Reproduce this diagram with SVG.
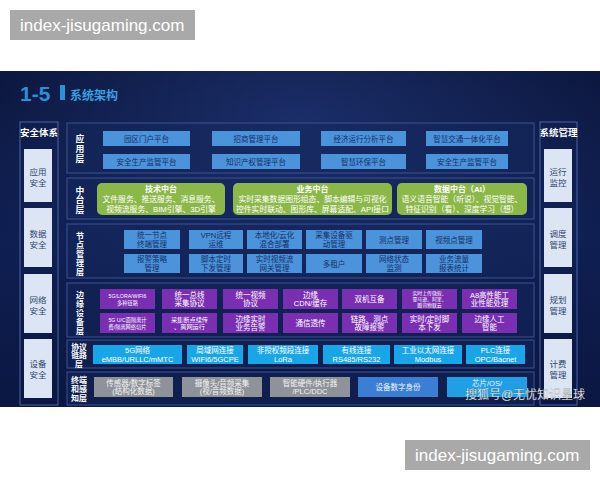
<svg xmlns="http://www.w3.org/2000/svg" width="600" height="480" viewBox="0 0 600 480">
<defs>
<linearGradient id="bg" x1="0" y1="0" x2="0" y2="1">
<stop offset="0" stop-color="#0a1438"/>
<stop offset="0.5" stop-color="#0f1f52"/>
<stop offset="1" stop-color="#0b1742"/>
</linearGradient>
<radialGradient id="glow" cx="0.5" cy="0.15" r="0.6">
<stop offset="0" stop-color="#27408a" stop-opacity="0.55"/>
<stop offset="1" stop-color="#27408a" stop-opacity="0"/>
</radialGradient>
<style>
text{font-family:"Liberation Sans","Noto Sans CJK SC",sans-serif;text-anchor:middle}
.wm{fill:#a9a9a9}
.wmt{fill:#ffffff;font-size:17px;text-anchor:start}
.layer{fill:#16285e;fill-opacity:0.45;stroke:#3d5394;stroke-width:1}
.col{fill:none;stroke:#4a62a2;stroke-width:1}
.side{fill:#dbe5f4}
.sidet{fill:#34466d;font-size:8.5px}
.hdr{fill:#ffffff;font-size:9.5px;font-weight:bold}
.lbl{fill:#ffffff;font-size:8.8px;font-weight:bold}
.lbs{fill:#ffffff;font-size:8px;font-weight:bold}
.app{fill:#4b93da}
.appt{fill:#16306a;font-size:7.5px}
.green{fill:#8cb84a}
.gt{fill:#ffffff;font-size:7.8px}
.gh{font-weight:bold;font-size:8px}
.pur{fill:#7a2fb2}
.pt{fill:#ffffff;font-size:7.5px}
.ps{fill:#ffffff;font-size:5.2px}
.cy{fill:#18a6e8}
.ct{fill:#ffffff;font-size:7.5px}
.gr{fill:#8e9399}
.grt{fill:#f4f4f4;font-size:7.5px}
</style>
</defs>

<!-- watermarks -->
<rect class="wm" x="10" y="10" width="185" height="30"/>
<text class="wmt" x="20" y="31">index-jisugaming.com</text>

<!-- background -->
<rect x="0" y="71" width="600" height="336" fill="url(#bg)"/>
<rect x="0" y="71" width="600" height="336" fill="url(#glow)"/>

<!-- title -->
<g id="title">
<text x="20" y="101" style="font-size:21px;font-weight:bold;fill:#2a91d9;text-anchor:start">1-5</text>
<rect x="60" y="85" width="5" height="15" fill="#2a91d9"/>
<text x="70" y="100" style="font-size:12px;font-weight:bold;fill:#3a9fe2;text-anchor:start">系统架构</text>
</g>

<!-- left column -->
<g id="security">
<rect class="col" x="20" y="122" width="38" height="283"/>
<text class="hdr" x="39" y="135.5">安全体系</text>
<g id="sec-app"><rect class="side" x="24" y="149" width="28" height="53"/><text class="sidet"><tspan x="38" y="175">应用</tspan><tspan x="38" y="186">安全</tspan></text></g>
<g id="sec-data"><rect class="side" x="24" y="208" width="28" height="59"/><text class="sidet"><tspan x="38" y="237">数据</tspan><tspan x="38" y="248">安全</tspan></text></g>
<g id="sec-net"><rect class="side" x="24" y="274" width="28" height="59"/><text class="sidet"><tspan x="38" y="303">网络</tspan><tspan x="38" y="314">安全</tspan></text></g>
<g id="sec-dev"><rect class="side" x="24" y="339" width="28" height="59"/><text class="sidet"><tspan x="38" y="367">设备</tspan><tspan x="38" y="378">安全</tspan></text></g>
</g>

<!-- right column -->
<g id="mgmt">
<rect class="col" x="540" y="122" width="37" height="283"/>
<text class="hdr" x="558.5" y="135.5">系统管理</text>
<g id="m-run"><rect class="side" x="544" y="149" width="28" height="53"/><text class="sidet"><tspan x="558" y="175">运行</tspan><tspan x="558" y="186">监控</tspan></text></g>
<g id="m-sched"><rect class="side" x="544" y="208" width="28" height="59"/><text class="sidet"><tspan x="558" y="237">调度</tspan><tspan x="558" y="248">管理</tspan></text></g>
<g id="m-plan"><rect class="side" x="544" y="274" width="28" height="59"/><text class="sidet"><tspan x="558" y="303">规划</tspan><tspan x="558" y="314">管理</tspan></text></g>
<g id="m-bill"><rect class="side" x="544" y="339" width="28" height="59"/><text class="sidet"><tspan x="558" y="367">计费</tspan><tspan x="558" y="378">管理</tspan></text></g>
</g>

<!-- application layer -->
<g id="layer-app">
<rect class="layer" x="67" y="123" width="467" height="50"/>
<text class="lbl"><tspan x="80" y="141.5">应</tspan><tspan x="80" y="151.5">用</tspan><tspan x="80" y="161.5">层</tspan></text>
<rect class="app" x="103" y="131" width="87" height="15"/><text class="appt" x="146.5" y="141.5">园区门户平台</text>
<rect class="app" x="212" y="131" width="88" height="15"/><text class="appt" x="256" y="141.5">招商管理平台</text>
<rect class="app" x="321" y="131" width="85" height="15"/><text class="appt" x="363.5" y="141.5">经济运行分析平台</text>
<rect class="app" x="426" y="131" width="82" height="15"/><text class="appt" x="467" y="141.5">智慧交通一体化平台</text>
<rect class="app" x="103" y="154" width="87" height="15"/><text class="appt" x="146.5" y="164.5">安全生产监管平台</text>
<rect class="app" x="212" y="154" width="88" height="15"/><text class="appt" x="256" y="164.5">知识产权管理平台</text>
<rect class="app" x="321" y="154" width="85" height="15"/><text class="appt" x="363.5" y="164.5">智慧环保平台</text>
<rect class="app" x="426" y="154" width="82" height="15"/><text class="appt" x="467" y="164.5">安全生产监管平台</text>
</g>

<!-- middle platform layer -->
<g id="layer-mid">
<rect class="layer" x="67" y="178" width="467" height="41"/>
<text class="lbl"><tspan x="80" y="193.5">中</tspan><tspan x="80" y="203.3">台</tspan><tspan x="80" y="213.1">层</tspan></text>
<g id="tech"><rect class="green" x="97" y="183" width="128" height="32" rx="5"/>
<text class="gt"><tspan class="gh" x="161" y="192">技术中台</tspan><tspan x="161" y="202">文件服务、推送服务、消息服务、</tspan><tspan x="161" y="211.5">视频流服务、BIM引擎、3D引擎</tspan></text></g>
<g id="biz"><rect class="green" x="233" y="183" width="159" height="32" rx="5"/>
<text class="gt"><tspan class="gh" x="312.5" y="192">业务中台</tspan><tspan x="312.5" y="202">实时采集数据图形组态、脚本编辑与可视化</tspan><tspan x="312.5" y="211.5">控件实时联动、图形库、屏幕适配、API接口</tspan></text></g>
<g id="data"><rect class="green" x="397" y="183" width="130" height="32" rx="5"/>
<text class="gt"><tspan class="gh" x="462" y="192">数据中台（AI）</tspan><tspan x="462" y="202">语义语音智能（听说）、视觉智能、</tspan><tspan x="462" y="211.5">特征识别（看）、深度学习（想）</tspan></text></g>
</g>

<!-- node management layer -->
<g id="layer-node">
<rect class="layer" x="67" y="224" width="467" height="54"/>
<text class="lbs"><tspan x="80" y="238.5">节</tspan><tspan x="80" y="247.5">点</tspan><tspan x="80" y="256.5">管</tspan><tspan x="80" y="265.5">理</tspan><tspan x="80" y="274.5">层</tspan></text>
<rect class="app" x="124" y="230" width="56" height="19"/><text class="appt"><tspan x="152" y="238">统一节点</tspan><tspan x="152" y="246.5">终端管理</tspan></text>
<rect class="app" x="189" y="230" width="54" height="19"/><text class="appt"><tspan x="216" y="238">VPN远程</tspan><tspan x="216" y="246.5">运维</tspan></text>
<rect class="app" x="247" y="230" width="55" height="19"/><text class="appt"><tspan x="274.5" y="238">本地化/云化</tspan><tspan x="274.5" y="246.5">混合部署</tspan></text>
<rect class="app" x="306" y="230" width="56" height="19"/><text class="appt"><tspan x="334" y="238">采集设备驱</tspan><tspan x="334" y="246.5">动管理</tspan></text>
<rect class="app" x="366" y="230" width="56" height="19"/><text class="appt" x="394" y="242.5">测点管理</text>
<rect class="app" x="426" y="230" width="56" height="19"/><text class="appt" x="454" y="242.5">视频点管理</text>
<rect class="app" x="124" y="254" width="56" height="19"/><text class="appt"><tspan x="152" y="262">报警策略</tspan><tspan x="152" y="270.5">管理</tspan></text>
<rect class="app" x="189" y="254" width="54" height="19"/><text class="appt"><tspan x="216" y="262">脚本定时</tspan><tspan x="216" y="270.5">下发管理</tspan></text>
<rect class="app" x="247" y="254" width="55" height="19"/><text class="appt"><tspan x="274.5" y="262">实时视频流</tspan><tspan x="274.5" y="270.5">网关管理</tspan></text>
<rect class="app" x="306" y="254" width="56" height="19"/><text class="appt" x="334" y="266.5">多租户</text>
<rect class="app" x="366" y="254" width="56" height="19"/><text class="appt"><tspan x="394" y="262">网络状态</tspan><tspan x="394" y="270.5">监测</tspan></text>
<rect class="app" x="426" y="254" width="56" height="19"/><text class="appt"><tspan x="454" y="262">业务流量</tspan><tspan x="454" y="270.5">报表统计</tspan></text>
</g>

<!-- edge device layer -->
<g id="layer-edge">
<rect class="layer" x="67" y="283" width="467" height="54"/>
<text class="lbs"><tspan x="80" y="297.5">边</tspan><tspan x="80" y="306.5">缘</tspan><tspan x="80" y="315.5">设</tspan><tspan x="80" y="324.5">备</tspan><tspan x="80" y="333.5">层</tspan></text>
<rect class="pur" x="100" y="289" width="55" height="20"/><text class="ps"><tspan x="127.5" y="298">5G/LORA/WIFI6</tspan><tspan x="127.5" y="305">多种链路</tspan></text>
<rect class="pur" x="162" y="289" width="55" height="20"/><text class="pt"><tspan x="189.5" y="297.5">统一总线</tspan><tspan x="189.5" y="306">采集协议</tspan></text>
<rect class="pur" x="223" y="289" width="55" height="20"/><text class="pt"><tspan x="250.5" y="297.5">统一视频</tspan><tspan x="250.5" y="306">协议</tspan></text>
<rect class="pur" x="283" y="289" width="55" height="20"/><text class="pt"><tspan x="310.5" y="297.5">边缘</tspan><tspan x="310.5" y="306">CDN/缓存</tspan></text>
<rect class="pur" x="342" y="289" width="55" height="20"/><text class="pt" x="369.5" y="301.5">双机互备</text>
<rect class="pur" x="402" y="289" width="55" height="20"/><text class="ps" style="font-size:4.9px"><tspan x="429.5" y="295.3">实时上传微软、</tspan><tspan x="429.5" y="300.9">亚马逊、阿里、</tspan><tspan x="429.5" y="306.5">腾讯物联云</tspan></text>
<rect class="pur" x="462" y="289" width="55" height="20"/><text class="pt"><tspan x="489.5" y="297.5">A8高性能工</tspan><tspan x="489.5" y="306">业性能处理</tspan></text>
<rect class="pur" x="100" y="313" width="55" height="20"/><text class="ps"><tspan x="127.5" y="321.5">5G U/C面隔离计</tspan><tspan x="127.5" y="328.5">费/隔离网络切片</tspan></text>
<rect class="pur" x="162" y="313" width="55" height="20"/><text class="ps" style="font-size:6.2px"><tspan x="189.5" y="321.5">采集断点续传</tspan><tspan x="189.5" y="329">、离网运行</tspan></text>
<rect class="pur" x="223" y="313" width="55" height="20"/><text class="pt"><tspan x="250.5" y="321.5">边缘实时</tspan><tspan x="250.5" y="330">业务告警</tspan></text>
<rect class="pur" x="283" y="313" width="55" height="20"/><text class="pt" x="310.5" y="325.5">通信透传</text>
<rect class="pur" x="342" y="313" width="55" height="20"/><text class="pt"><tspan x="369.5" y="321.5">链路、测点</tspan><tspan x="369.5" y="330">故障报警</tspan></text>
<rect class="pur" x="402" y="313" width="55" height="20"/><text class="pt"><tspan x="429.5" y="321.5">实时/定时脚</tspan><tspan x="429.5" y="330">本下发</tspan></text>
<rect class="pur" x="462" y="313" width="55" height="20"/><text class="pt"><tspan x="489.5" y="321.5">边缘人工</tspan><tspan x="489.5" y="330">智能</tspan></text>
</g>

<!-- protocol link layer -->
<g id="layer-proto">
<rect class="layer" x="67" y="340" width="467" height="28"/>
<text class="lbs" style="font-size:7.8px"><tspan x="79" y="349.5">协议</tspan><tspan x="79" y="358.3">链路</tspan><tspan x="79" y="367.1">层</tspan></text>
<rect class="cy" x="93" y="345" width="89" height="19"/><text class="ct"><tspan x="137.5" y="353">5G网络</tspan><tspan x="137.5" y="361.5">eMBB/URLLC/mMTC</tspan></text>
<rect class="cy" x="187" y="345" width="56" height="19"/><text class="ct"><tspan x="215" y="353">局域网连接</tspan><tspan x="215" y="361.5">WIFI6/5GCPE</tspan></text>
<rect class="cy" x="248" y="345" width="70" height="19"/><text class="ct"><tspan x="283" y="353">非授权频段连接</tspan><tspan x="283" y="361.5">LoRa</tspan></text>
<rect class="cy" x="323" y="345" width="67" height="19"/><text class="ct"><tspan x="356.5" y="353">有线连接</tspan><tspan x="356.5" y="361.5">RS485/RS232</tspan></text>
<rect class="cy" x="394" y="345" width="68" height="19"/><text class="ct"><tspan x="428" y="353">工业以太网连接</tspan><tspan x="428" y="361.5">Modbus</tspan></text>
<rect class="cy" x="466" y="345" width="59" height="19"/><text class="ct"><tspan x="495.5" y="353">PLC连接</tspan><tspan x="495.5" y="361.5">OPC/Bacnet</tspan></text>
</g>

<!-- terminal and perception layer -->
<g id="layer-term">
<rect class="layer" x="67" y="372" width="467" height="33"/>
<text class="lbs"><tspan x="79" y="382.5">终端</tspan><tspan x="79" y="391.5">和感</tspan><tspan x="79" y="400.5">知层</tspan></text>
<rect class="gr" x="94" y="377" width="79" height="20"/><text class="grt"><tspan x="133.5" y="385.5">传感器/数字标签</tspan><tspan x="133.5" y="394">(结构化数据)</tspan></text>
<rect class="gr" x="182" y="377" width="80" height="20"/><text class="grt"><tspan x="222" y="385.5">摄像头/音频采集</tspan><tspan x="222" y="394">(视/音频数据)</tspan></text>
<rect class="gr" x="270" y="377" width="80" height="20"/><text class="grt"><tspan x="310" y="385.5">智能硬件/执行器</tspan><tspan x="310" y="394">/PLC/DDC</tspan></text>
<rect x="358" y="377" width="80" height="20" fill="#3a7fd4"/><text class="grt" x="398" y="390">设备数字身份</text>
<rect x="447" y="377" width="80" height="20" fill="#1e9fe6"/><text class="grt" x="487" y="385.5">芯片/OS/</text>
</g>

<text x="525" y="399" style="fill:#ffffff;font-size:12px;stroke:#333;stroke-width:0.3;stroke-opacity:0.5">搜狐号@无忧知识星球</text>

<rect class="wm" x="405" y="440" width="185" height="30"/>
<text class="wmt" x="415" y="461">index-jisugaming.com</text>
</svg>
